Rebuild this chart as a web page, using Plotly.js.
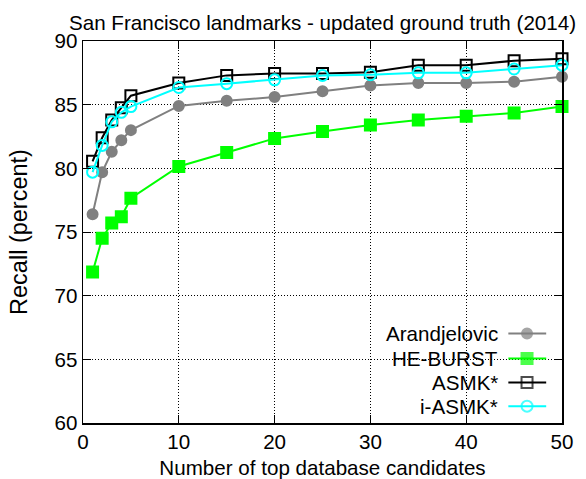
<!DOCTYPE html>
<html>
<head>
<meta charset="utf-8">
<script src="https://cdn.plot.ly/plotly-3.0.1.min.js"></script>
<style>html,body{margin:0;padding:0;background:#fff;}#chart{width:586px;height:479px;}</style>
</head>
<body>
<div id="chart"></div>
<script>
// ---- data ----
const candidates = [1, 2, 3, 4, 5, 10, 15, 20, 25, 30, 35, 40, 45, 50];
const arandjelovic = [76.4, 79.7, 81.3, 82.2, 83.0, 84.9, 85.3, 85.6, 86.05, 86.5, 86.7, 86.7, 86.8, 87.2];
const heBurst = [71.85, 74.5, 75.7, 76.2, 77.65, 80.15, 81.25, 82.35, 82.9, 83.4, 83.8, 84.1, 84.35, 84.85];
const asmk = [80.55, 82.4, 83.8, 84.75, 85.7, 86.7, 87.3, 87.45, 87.45, 87.55, 88.1, 88.1, 88.45, 88.6];
const iAsmk = [79.7, 81.8, 83.65, 84.4, 84.85, 86.35, 86.65, 86.95, 87.3, 87.35, 87.5, 87.5, 87.8, 88.1];
const seriesNames = ["Arandjelovic", "HE-BURST", "ASMK*", "i-ASMK*"];
const xTicks = [0, 10, 20, 30, 40, 50];
const yTicks = [60, 65, 70, 75, 80, 85, 90];

// ---- styles ----
const styles = [
  {color: "#808080", symbol: "circle", size: 10, lc: "#808080"},
  {color: "#00ff00", symbol: "square", size: 11, lc: "#00ff00"},
  {color: "#000000", symbol: "square-open", size: 11, lc: "#000000"},
  {color: "#00ffff", symbol: "circle-open", size: 11, lc: "#00ffff"}
];
const seriesValues = [arandjelovic, heBurst, asmk, iAsmk];
const FONT = "Liberation Sans, Arial, sans-serif";
const FS = 20.6;

const traces = seriesValues.map((vals, i) => ({
  x: candidates, y: vals, name: seriesNames[i], type: "scatter", mode: "lines+markers",
  line: {color: styles[i].lc, width: 2},
  marker: {color: styles[i].color, symbol: styles[i].symbol, size: styles[i].size, line: {color: styles[i].color, width: 2}},
  showlegend: false, cliponaxis: false
}));

// custom gnuplot-style legend (text right, sample left) on an overlay axis [0,1]
const legX = [0.888, 0.927, 0.967];
const legY = [0.234, 0.169, 0.106, 0.044];
const annotations = [];
seriesNames.forEach((name, i) => {
  traces.push({
    x: legX, y: [legY[i], legY[i], legY[i]], xaxis: "x2", yaxis: "y2", type: "scatter", mode: "lines+markers",
    line: {color: styles[i].lc, width: 2},
    marker: {color: styles[i].color, symbol: styles[i].symbol, size: [0, styles[i].size, 0], line: {color: styles[i].color, width: [0, 2, 0]}},
    showlegend: false, hoverinfo: "skip"
  });
  annotations.push({xref: "paper", yref: "paper", x: 0.871, y: legY[i], xanchor: "right", yanchor: "middle",
    text: name, showarrow: false, font: {family: FONT, size: FS, color: "#000"}});
});

const layout = {
  width: 586, height: 479,
  margin: {l: 83, r: 24, t: 41, b: 56},
  paper_bgcolor: "#fff", plot_bgcolor: "#fff",
  font: {family: FONT, size: FS, color: "#000"},
  title: {text: "San Francisco landmarks - updated ground truth (2014)", font: {family: FONT, size: FS, color: "#000"},
    xref: "paper", x: 0.5, xanchor: "center", yref: "container", y: 0.952, yanchor: "middle"},
  xaxis: {range: [0, 50], tickvals: xTicks, ticktext: xTicks.map(String), ticks: "inside", ticklen: 8, tickwidth: 1, tickcolor: "#000",
    showline: true, linecolor: "#000", linewidth: 1.5, mirror: "allticks",
    showgrid: true, gridcolor: "#000", gridwidth: 1, griddash: "1px,2px", zeroline: false,
    title: {text: "Number of top database candidates", font: {family: FONT, size: FS}, standoff: 16},
    automargin: false},
  yaxis: {range: [60, 90], tickvals: yTicks, ticktext: yTicks.map(String), ticks: "inside", ticklen: 8, tickwidth: 1, tickcolor: "#000",
    showline: true, linecolor: "#000", linewidth: 1.5, mirror: "allticks",
    showgrid: true, gridcolor: "#000", gridwidth: 1, griddash: "1px,2px", zeroline: false,
    title: {text: "Recall (percent)", font: {family: FONT, size: 23.5}, standoff: 20},
    automargin: false},
  xaxis2: {overlaying: "x", range: [0, 1], visible: false, fixedrange: true},
  yaxis2: {overlaying: "y", range: [0, 1], visible: false, fixedrange: true},
  annotations: annotations,
  showlegend: false
};

Plotly.newPlot("chart", traces, layout, {staticPlot: true});
</script>
</body>
</html>
